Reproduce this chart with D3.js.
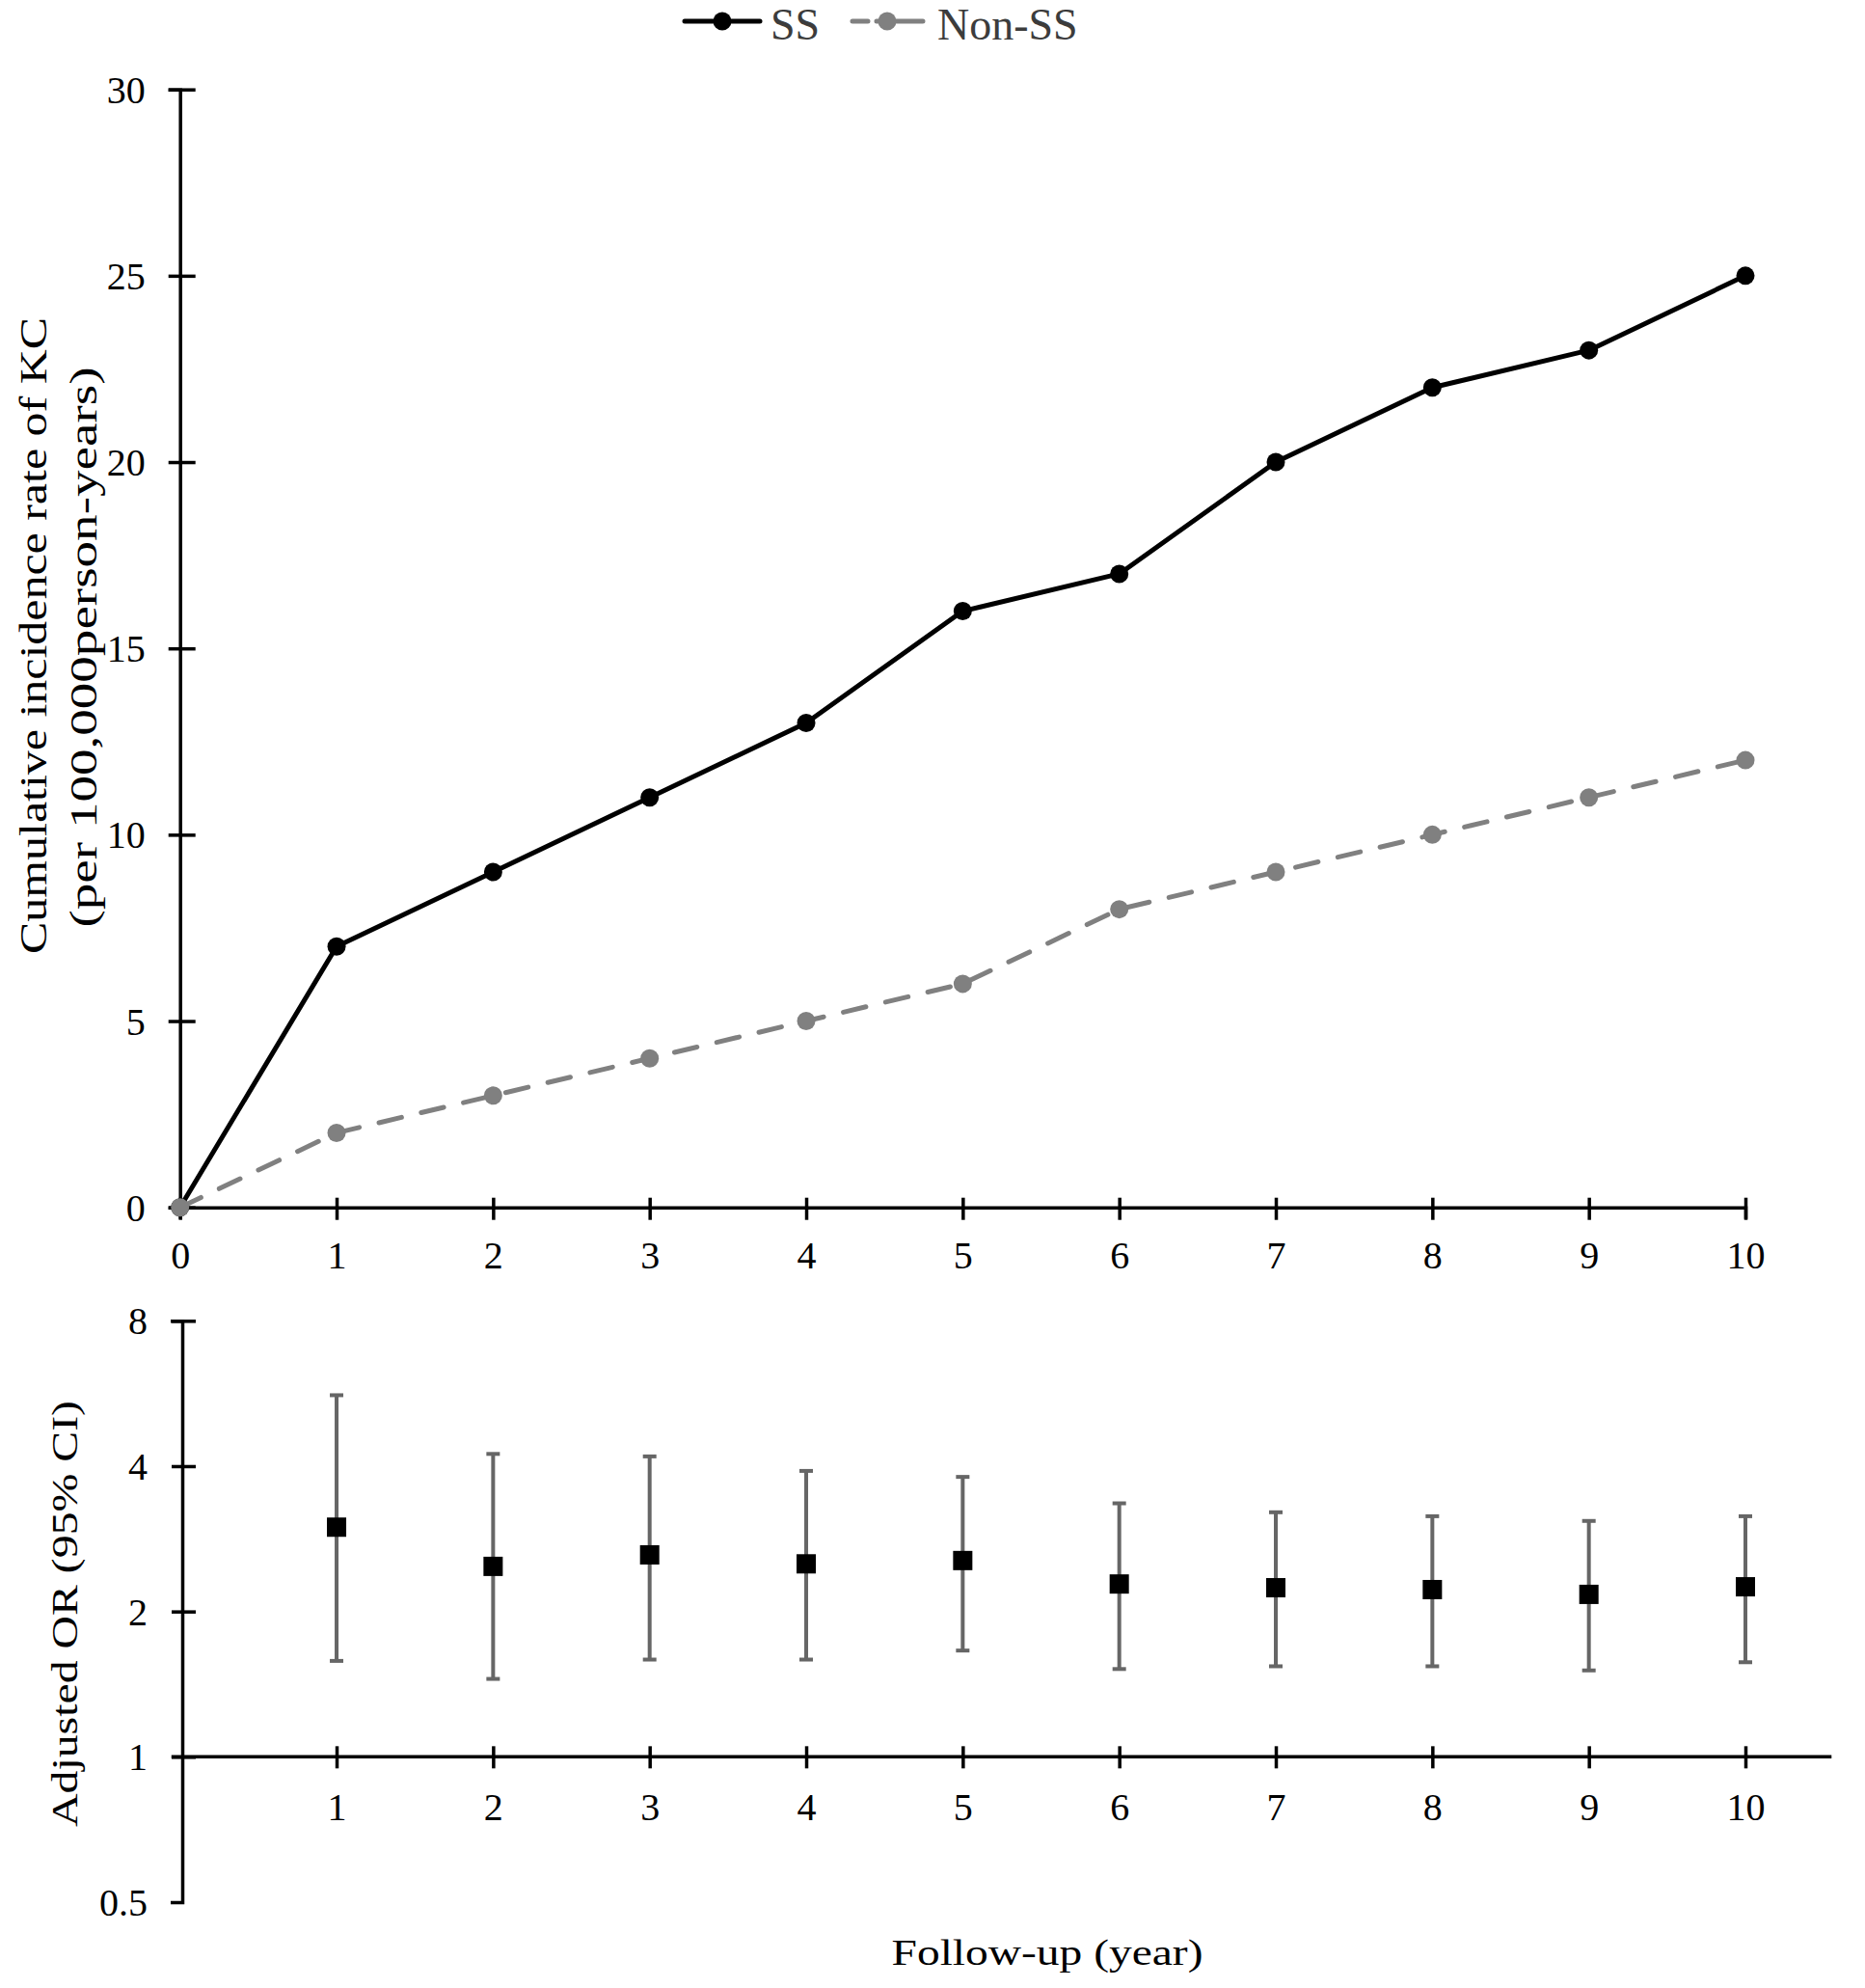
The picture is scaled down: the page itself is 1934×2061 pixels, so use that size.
<!DOCTYPE html>
<html>
<head>
<meta charset="utf-8">
<script src="https://cdn.jsdelivr.net/npm/d3@7"></script>
<style>
  html, body { margin: 0; padding: 0; background: #fff; }
  svg { display: block; }
  text { font-family: "Liberation Serif", "Times New Roman", serif; }
</style>
</head>
<body>
<svg id="chart" width="1934" height="2061"></svg>
<script>
// ---------- data ----------
const years = [0, 1, 2, 3, 4, 5, 6, 7, 8, 9, 10];
const ssRate = [0, 7, 9, 11, 13, 16, 17, 20, 22, 23, 25];
const nonSsRate = [0, 2, 3, 4, 5, 6, 8, 9, 10, 11, 12];

const orYears = [1, 2, 3, 4, 5, 6, 7, 8, 9, 10];
const orValue = [2.99, 2.48, 2.62, 2.51, 2.55, 2.28, 2.24, 2.22, 2.17, 2.25];
const orLower = [1.58, 1.45, 1.59, 1.59, 1.66, 1.52, 1.54, 1.54, 1.51, 1.57];
const orUpper = [5.61, 4.24, 4.19, 3.91, 3.80, 3.35, 3.21, 3.15, 3.08, 3.15];

const topYTicks = [0, 5, 10, 15, 20, 25, 30];
const topXTicks = [0, 1, 2, 3, 4, 5, 6, 7, 8, 9, 10];
const botYTicks = [1, 2, 4, 8];
const botYLabels = [0.5, 1, 2, 4, 8];
const botXTicks = [1, 2, 3, 4, 5, 6, 7, 8, 9, 10];

const seriesNames = ["SS", "Non-SS"];

// ---------- layout ----------
const svg = d3.select("#chart");
const BLACK = "#000";
const GRAY = "#808080";
const ERR = "#666666";

const x = d3.scaleLinear().domain([0, 10]).range([186.7, 1810]);
const yTop = d3.scaleLinear().domain([0, 30]).range([1251.7, 92.7]);
const yBot = d3.scaleLog().base(2).domain([0.5, 8]).range([1972, 1369.3]);

// ---------- top chart axes ----------
const gTopY = svg.append("g").attr("transform", `translate(${x(0)},0)`)
  .call(d3.axisLeft(yTop).tickValues(topYTicks).tickSizeOuter(0).tickSize(12));
gTopY.select(".domain").attr("stroke", BLACK).attr("stroke-width", 3.5);
gTopY.selectAll(".tick line").attr("x1", -12).attr("x2", 16).attr("stroke", BLACK).attr("stroke-width", 3.5);
gTopY.selectAll(".tick text").attr("x", -36).attr("dy", "0.34em")
  .attr("font-size", 40).attr("fill", BLACK).attr("font-family", "Liberation Serif");

const gTopX = svg.append("g").attr("transform", `translate(0,${yTop(0)})`)
  .call(d3.axisBottom(x).tickValues(topXTicks).tickSizeOuter(0).tickSize(12));
gTopX.select(".domain").attr("stroke", BLACK).attr("stroke-width", 3.5);
gTopX.selectAll(".tick line").attr("y1", -10).attr("y2", 13).attr("stroke", BLACK).attr("stroke-width", 3.5);
gTopX.selectAll(".tick text").attr("y", 63).attr("dy", 0)
  .attr("font-size", 40).attr("fill", BLACK).attr("font-family", "Liberation Serif");

// ---------- top chart lines ----------
const ssData = years.map((yr, i) => ({ x: yr, y: ssRate[i] }));
const nonData = years.map((yr, i) => ({ x: yr, y: nonSsRate[i] }));
const line = d3.line().x(d => x(d.x)).y(d => yTop(d.y));

svg.append("path").datum(ssData).attr("d", line)
  .attr("fill", "none").attr("stroke", BLACK).attr("stroke-width", 5).attr("stroke-linejoin", "round");
svg.append("g").selectAll("circle").data(ssData).join("circle")
  .attr("cx", d => x(d.x)).attr("cy", d => yTop(d.y)).attr("r", 9.5).attr("fill", BLACK);

svg.append("path").datum(nonData).attr("d", line)
  .attr("fill", "none").attr("stroke", GRAY).attr("stroke-width", 5)
  .attr("stroke-dasharray", "24,21").attr("stroke-linecap", "round");
svg.append("g").selectAll("circle").data(nonData).join("circle")
  .attr("cx", d => x(d.x)).attr("cy", d => yTop(d.y)).attr("r", 9.5).attr("fill", GRAY);

// ---------- legend ----------
const leg = svg.append("g");
const LY = 22;
leg.append("line").attr("x1", 710).attr("x2", 788).attr("y1", LY).attr("y2", LY)
  .attr("stroke", BLACK).attr("stroke-width", 5).attr("stroke-linecap", "round");
leg.append("circle").attr("cx", 749).attr("cy", LY).attr("r", 9.5).attr("fill", BLACK);
leg.append("text").attr("x", 799).attr("y", LY + 19).attr("font-size", 46).attr("fill", "#3c3c3c").text(seriesNames[0]);
leg.append("line").attr("x1", 884).attr("x2", 957).attr("y1", LY).attr("y2", LY)
  .attr("stroke", GRAY).attr("stroke-width", 5).attr("stroke-linecap", "round")
  .attr("stroke-dasharray", "16,9,80");
leg.append("circle").attr("cx", 920).attr("cy", LY).attr("r", 9.5).attr("fill", GRAY);
leg.append("text").attr("x", 972).attr("y", LY + 19).attr("font-size", 46).attr("fill", "#3c3c3c").text(seriesNames[1]);

// ---------- top y title ----------
svg.append("text")
  .attr("transform", `translate(48,659) rotate(-90)`)
  .attr("text-anchor", "middle").attr("font-size", 41).attr("fill", BLACK)
  .attr("textLength", 660).attr("lengthAdjust", "spacingAndGlyphs")
  .text("Cumulative incidence  rate of KC");
svg.append("text")
  .attr("transform", `translate(100,671) rotate(-90)`)
  .attr("text-anchor", "middle").attr("font-size", 41).attr("fill", BLACK)
  .attr("textLength", 581).attr("lengthAdjust", "spacingAndGlyphs")
  .text("(per 100,000person-years)");

// ---------- bottom chart axes ----------
const gBotY = svg.append("g").attr("transform", `translate(189,0)`)
  .call(d3.axisLeft(yBot).tickValues(botYLabels).tickFormat(d => String(d)).tickSizeOuter(0).tickSize(12));
gBotY.select(".domain").attr("stroke", BLACK).attr("stroke-width", 3.5);
gBotY.selectAll(".tick line")
  .attr("x1", d => botYTicks.includes(d) ? -11 : 0)
  .attr("x2", d => botYTicks.includes(d) ? 14 : 0)
  .attr("stroke", BLACK).attr("stroke-width", 3.5);
gBotY.selectAll(".tick text").attr("x", -36).attr("dy", "0.34em")
  .attr("font-size", 40).attr("fill", BLACK).attr("font-family", "Liberation Serif");

const gBotX = svg.append("g").attr("transform", `translate(0,${yBot(1)})`);
gBotX.append("line").attr("x1", x(-0.055)).attr("x2", x(10.55)).attr("y1", 0).attr("y2", 0)
  .attr("stroke", BLACK).attr("stroke-width", 3.5);
gBotX.call(d3.axisBottom(x).tickValues(botXTicks).tickSizeOuter(0).tickSize(12));
gBotX.select(".domain").remove();
gBotX.selectAll(".tick line").attr("y1", -11).attr("y2", 12).attr("stroke", BLACK).attr("stroke-width", 3.5);
gBotX.selectAll(".tick text").attr("y", 66).attr("dy", 0)
  .attr("font-size", 40).attr("fill", BLACK).attr("font-family", "Liberation Serif");

// ---------- error bars ----------
const orData = orYears.map((yr, i) => ({ x: yr, v: orValue[i], lo: orLower[i], hi: orUpper[i] }));
const eb = svg.append("g");
eb.selectAll("line.stem").data(orData).join("line").attr("class", "stem")
  .attr("x1", d => x(d.x)).attr("x2", d => x(d.x))
  .attr("y1", d => yBot(d.lo)).attr("y2", d => yBot(d.hi))
  .attr("stroke", ERR).attr("stroke-width", 4);
eb.selectAll("line.capHi").data(orData).join("line").attr("class", "capHi")
  .attr("x1", d => x(d.x) - 7).attr("x2", d => x(d.x) + 7)
  .attr("y1", d => yBot(d.hi)).attr("y2", d => yBot(d.hi))
  .attr("stroke", ERR).attr("stroke-width", 4);
eb.selectAll("line.capLo").data(orData).join("line").attr("class", "capLo")
  .attr("x1", d => x(d.x) - 7).attr("x2", d => x(d.x) + 7)
  .attr("y1", d => yBot(d.lo)).attr("y2", d => yBot(d.lo))
  .attr("stroke", ERR).attr("stroke-width", 4);
eb.selectAll("rect").data(orData).join("rect")
  .attr("x", d => x(d.x) - 10).attr("y", d => yBot(d.v) - 10)
  .attr("width", 20).attr("height", 20).attr("fill", BLACK);

// ---------- bottom titles ----------
svg.append("text")
  .attr("transform", `translate(80,1673) rotate(-90)`)
  .attr("text-anchor", "middle").attr("font-size", 37).attr("fill", BLACK)
  .attr("textLength", 442).attr("lengthAdjust", "spacingAndGlyphs")
  .text("Adjusted OR (95% CI)");

svg.append("text")
  .attr("x", 1086).attr("y", 2037)
  .attr("text-anchor", "middle").attr("font-size", 37).attr("fill", BLACK)
  .attr("textLength", 323).attr("lengthAdjust", "spacingAndGlyphs")
  .text("Follow-up (year)");
</script>
</body>
</html>
